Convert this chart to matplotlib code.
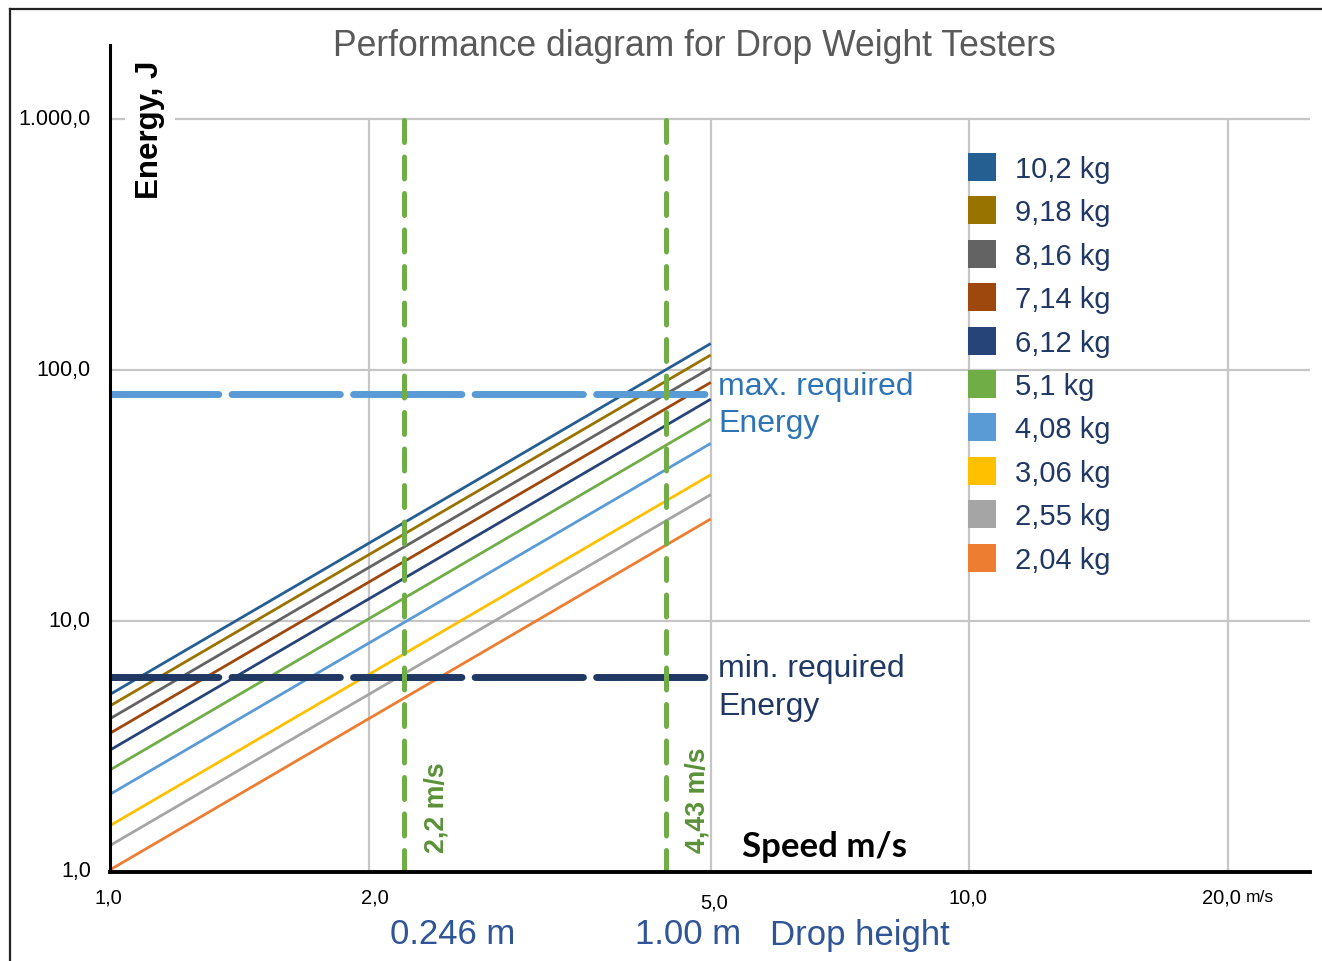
import matplotlib
matplotlib.use("Agg")
import matplotlib.pyplot as plt
from matplotlib.lines import Line2D
from matplotlib.patches import Rectangle

W, H = 1322, 961
def fx(px): return px / W
def fy(py): return 1 - py / H

# ---------------- data ----------------
speeds = [1.0, 2.0, 3.0, 4.0, 5.0]  # m/s
mass_labels = ["10,2 kg", "9,18 kg", "8,16 kg", "7,14 kg", "6,12 kg",
               "5,1 kg", "4,08 kg", "3,06 kg", "2,55 kg", "2,04 kg"]
energy_10_2 = [5.1, 20.4, 45.9, 81.6, 127.5]
energy_9_18 = [4.59, 18.36, 41.31, 73.44, 114.75]
energy_8_16 = [4.08, 16.32, 36.72, 65.28, 102.0]
energy_7_14 = [3.57, 14.28, 32.13, 57.12, 89.25]
energy_6_12 = [3.06, 12.24, 27.54, 48.96, 76.5]
energy_5_1 = [2.55, 10.2, 22.95, 40.8, 63.75]
energy_4_08 = [2.04, 8.16, 18.36, 32.64, 51.0]
energy_3_06 = [1.53, 6.12, 13.77, 24.48, 38.25]
energy_2_55 = [1.275, 5.1, 11.475, 20.4, 31.875]
energy_2_04 = [1.02, 4.08, 9.18, 16.32, 25.5]
energies = [energy_10_2, energy_9_18, energy_8_16, energy_7_14, energy_6_12,
            energy_5_1, energy_4_08, energy_3_06, energy_2_55, energy_2_04]
colors = ["#255E91", "#997300", "#636363", "#9E480E", "#264478",
          "#70AD47", "#5B9BD5", "#FFC000", "#A5A5A5", "#ED7D31"]

max_energy = 80.0
min_energy = 6.0
ref_speeds = [2.2, 4.43]
ref_speed_labels = ["2,2 m/s", "4,43 m/s"]

x_ticks = [1, 2, 5, 10, 20]
x_tick_labels = ["1,0", "2,0", "5,0", "10,0", "20,0"]
y_ticks = [1, 10, 100, 1000]
y_tick_labels = ["1,0", "10,0", "100,0", "1.000,0"]

plt.rcParams['font.family'] = ['Liberation Sans', 'DejaVu Sans']

fig = plt.figure(figsize=(W / 100, H / 100), dpi=100)
fig.patch.set_facecolor("white")

ax = fig.add_axes([fx(110), fy(872), fx(1310) - fx(110), fy(45) - fy(872)])
ax.set_xscale("log")
ax.set_yscale("log")
ax.set_xlim(1, 24.9)
ax.set_ylim(1, 1972)
ax.set_facecolor("none")

for s in ["top", "right"]:
    ax.spines[s].set_visible(False)
ax.spines["left"].set_linewidth(2.2)
ax.spines["bottom"].set_linewidth(2.8)
ax.spines["left"].set_color("black")
ax.spines["bottom"].set_color("black")
ax.spines["left"].set_zorder(6)
ax.spines["bottom"].set_zorder(6)

ax.set_xticks([])
ax.set_yticks([])
ax.minorticks_off()
ax.tick_params(which="both", length=0)

grid_c = "#c6c6c6"
for yv in [10, 100, 1000]:
    ax.axhline(yv, color=grid_c, lw=1.6, zorder=1)
for xv in x_ticks[1:]:
    ax.plot([xv, xv], [1, 1000], color=grid_c, lw=1.6, zorder=1)

# data lines
for e, c in zip(energies, colors):
    ax.plot(speeds, e, color=c, lw=2.0, zorder=3, solid_capstyle="butt")

# required energy dashed lines
ax.plot([1, 5], [max_energy, max_energy], color="#5B9BD5", lw=5.0,
        dashes=(15.6, 1.9), dash_capstyle="round", zorder=4)
ax.plot([1, 5], [min_energy, min_energy], color="#203864", lw=5.0,
        dashes=(15.6, 1.9), dash_capstyle="round", zorder=4)

# reference speed dashed lines
for v in ref_speeds:
    ax.plot([v, v], [1, 1000], color="#70AD47", lw=3.6,
            dashes=(4.4, 2.9), dash_capstyle="round", zorder=5)

# tick labels
for v, lab in zip(y_ticks, y_tick_labels):
    ax.text(-0.016, v, lab, transform=ax.get_yaxis_transform(), ha="right",
            va="center", fontsize=15.5, color="black")
xt_off = {5: 31}
xt_dx = {1: -2, 2: 6, 5: 3, 10: -2, 20: -7}
for v, lab in zip(x_ticks, x_tick_labels):
    off = xt_off.get(v, 26)
    t = ax.text(v, -off / 827.0, lab, transform=ax.get_xaxis_transform(),
                ha="center", va="center", fontsize=14.5, color="black")
    t.set_x(v * 10 ** (xt_dx[v] / 859.0))
ax.text(20 * 10 ** (18 / 859.0), -26 / 827.0, "m/s", transform=ax.get_xaxis_transform(),
        ha="left", va="center", fontsize=12.5, color="black")

# axis titles
fig.text(fx(150), fy(130), "Energy, J", rotation=90, ha="center", va="center",
         fontsize=22.5, fontweight="bold", color="black",
         bbox=dict(facecolor="white", edgecolor="none", pad=7))
fig.text(fx(825), fy(847), "Speed m/s", ha="center", va="center",
         fontsize=25, fontweight="bold", color="black", family=["Lato", "DejaVu Sans"])

# reference speed labels
fig.text(fx(437), fy(808), ref_speed_labels[0], rotation=90, ha="center",
         va="center", fontsize=19.3, fontweight="bold", color="#5A9238")
fig.text(fx(697), fy(800), ref_speed_labels[1], rotation=90, ha="center",
         va="center", fontsize=19.3, fontweight="bold", color="#5A9238")

# required energy labels
fig.text(fx(718), fy(387), "max. required", ha="left", va="center",
         fontsize=23, color="#2E74B5")
fig.text(fx(718), fy(424), "Energy", ha="left", va="center",
         fontsize=23, color="#2E74B5")
fig.text(fx(718), fy(669), "min. required", ha="left", va="center",
         fontsize=23, color="#203864")
fig.text(fx(718), fy(707), "Energy", ha="left", va="center",
         fontsize=23, color="#203864")

# drop heights
fig.text(fx(390), fy(935), "0.246 m", ha="left", va="center", fontsize=25, color="#2F5597")
fig.text(fx(635), fy(935), "1.00 m", ha="left", va="center", fontsize=25, color="#2F5597")
fig.text(fx(770), fy(935), "Drop height", ha="left", va="center", fontsize=25, color="#2F5597")

# title
fig.text(fx(694), fy(46), "Performance diagram for Drop Weight Testers",
         ha="center", va="center", fontsize=25.6, color="#595959")

# legend (manual)
for i, (lab, c) in enumerate(zip(mass_labels, colors)):
    yc = 167 + i * 43.4
    fig.patches.append(Rectangle((fx(968), fy(yc + 14)), fx(996) - fx(968), 28 / H,
                                 transform=fig.transFigure, facecolor=c, edgecolor="none"))
    fig.text(fx(1015), fy(yc + 3), lab, ha="left", va="center", fontsize=21, color="#1F3864")

# outer frame (left and top)
fig.add_artist(Line2D([fx(10), fx(10)], [fy(9), 0], transform=fig.transFigure,
                      color="#222222", lw=1.6))
fig.add_artist(Line2D([fx(10), 1], [fy(9), fy(9)], transform=fig.transFigure,
                      color="#222222", lw=1.6))

fig.savefig("out.png", dpi=100, facecolor="white")
